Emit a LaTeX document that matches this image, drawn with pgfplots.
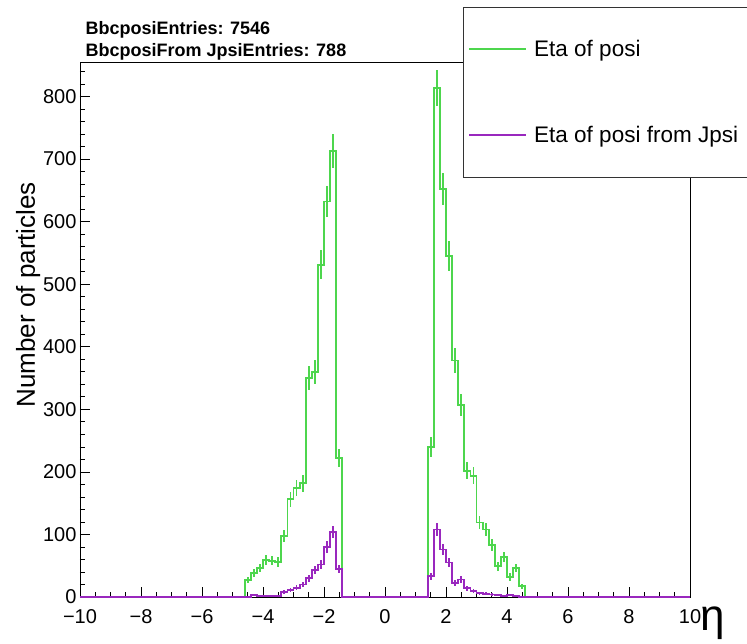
\documentclass[border=0pt]{standalone}
\usepackage{pgfplots}
\pgfplotsset{compat=1.18}
\usepackage{pgfplotstable}
\usepackage{fontspec}
\setmainfont{Liberation Sans}
\definecolor{rgreen}{RGB}{77,214,77}
\definecolor{rpurple}{RGB}{153,40,190}

\pgfplotstableread{
lo v
-10 0
-4.6 27
-4.4 38
-4.2 46
-4.0 59
-3.8 58
-3.6 56
-3.4 97
-3.2 156
-3.0 174
-2.8 182
-2.6 350
-2.4 360
-2.2 531
-2.0 632
-1.8 713
-1.6 222
-1.4 0
1.4 240
1.6 813
1.8 652
2.0 545
2.2 378
2.4 307
2.6 202
2.8 194
3.0 119
3.2 108
3.4 83
3.6 49
3.8 64
4.0 32
4.2 46
4.4 17
4.6 0
10 0
}\greentab

\pgfplotstableread{
lo v
-10 0
-4.4 3
-4.2 2
-4.0 2
-3.8 2
-3.6 1
-3.4 8
-3.2 11
-3.0 15
-2.8 20
-2.6 30
-2.4 43
-2.2 52
-2.0 80
-1.8 104
-1.6 45
-1.4 0
1.4 33
1.6 108
1.8 76
2.0 55
2.2 23
2.4 28
2.6 14
2.8 10
3.0 6
3.2 5
3.4 4
3.6 3
3.8 2
4.0 3
4.2 2
4.4 0
10 0
}\purpletab

\begin{document}
\begin{tikzpicture}
\useasboundingbox (-80pt,-46pt) rectangle (667pt,597pt);
\begin{axis}[
  scale only axis, width=610pt, height=535pt,
  xmin=-10, xmax=10, ymin=0, ymax=855,
  xtick={-10,-8,-6,-4,-2,0,2,4,6,8,10},
  xticklabels={−10,−8,−6,−4,−2,0,2,4,6,8,10},
  minor xtick={-9.5,-9,...,9.5},
  ytick={0,100,...,800},
  minor ytick={20,40,...,840},
  tick align=inside, xtick pos=bottom, ytick pos=left,
  major tick length=10pt, minor tick length=5pt,
  tick style={black, line width=0.6pt},
  axis line style={line width=0.8pt},
  /pgf/number format/assume math mode=true,
  ticklabel style={font=\fontsize{20}{24}\selectfont},
  xticklabel style={yshift=-9pt},
  ylabel={Number of particles},
  ylabel style={font=\fontsize{26}{30}\selectfont, at={(axis description cs:-0.085,0.565)}, anchor=center},
  xlabel={η},
  xlabel style={font=\fontsize{44}{48}\selectfont, at={(axis description cs:1.038,-0.049)}, anchor=center},
  legend cell align=left,
  legend image code/.code={\draw[#1, line width=1.8pt] (0pt,0pt) -- (57pt,0pt);},
  legend style={at={(0.6279,1.1028)}, anchor=north west, draw=black!80, line width=0.8pt,
    fill=white, inner xsep=5pt, inner ysep=31pt, row sep=64pt, column sep=5pt,
    font=\fontsize{22.5}{26}\selectfont},
]
\addplot[rgreen, line width=1.8pt, const plot mark left, mark=none] table[x=lo, y=v] {\greentab};
\addlegendentry{Eta of posi}
\addplot[draw=none, mark=none, forget plot, error bars/.cd, y dir=both, y explicit, error mark=none,
  error bar style={draw=rgreen, line width=1.8pt}]
  table[x expr=\thisrow{lo}+0.1, y=v, y error expr={sqrt(\thisrow{v})}] {\greentab};
\addplot[rpurple, line width=1.8pt, const plot mark left, mark=none] table[x=lo, y=v] {\purpletab};
\addlegendentry{Eta of posi from Jpsi\hphantom{MMM}}
\addplot[draw=none, mark=none, forget plot, error bars/.cd, y dir=both, y explicit, error mark=none,
  error bar style={draw=rpurple, line width=1.8pt}]
  table[x expr=\thisrow{lo}+0.1, y=v, y error expr={sqrt(\thisrow{v})}] {\purpletab};
\end{axis}
\node[anchor=base west, font=\bfseries\fontsize{18}{20}\selectfont] at (2pt,562pt) {BbcposiEntries: 7546};
\node[anchor=base west, font=\bfseries\fontsize{18}{20}\selectfont] at (2pt,540pt) {BbcposiFrom JpsiEntries: 788};
\end{tikzpicture}
\end{document}
